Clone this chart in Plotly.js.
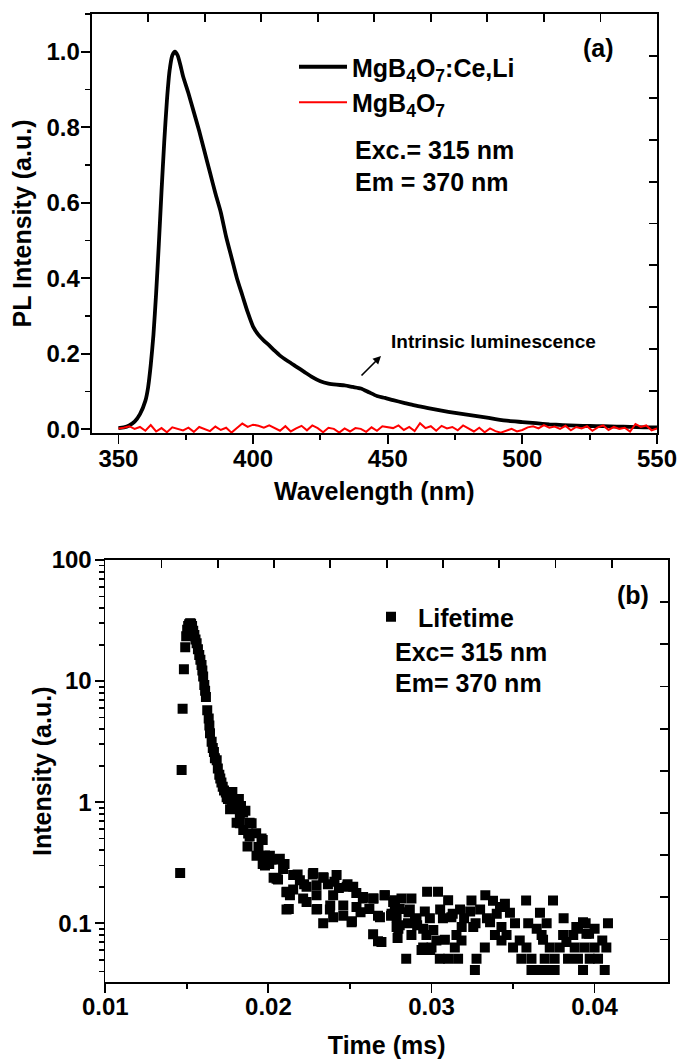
<!DOCTYPE html>
<html>
<head>
<meta charset="utf-8">
<script src="https://cdn.plot.ly/plotly-3.0.1.min.js"></script>
<style>html,body{margin:0;padding:0;background:#fff;}#chart{width:681px;height:1059px;}</style>
</head>
<body>
<div id="chart"></div>
<script>
// ---------- Panel (a): PL spectra ----------
const wlCeLi = [350,352,354,356,358,360,361,362,363,364,365,366,367,368,369,370,371,372,373,374,376,378,380,382,384,386,388,390,392,394,396,398,400,402,404,406,408,410,413,416,419,422,425,428,431,434,437,440,443,446,449,452,456,460,465,470,475,480,485,490,495,500,505,510,515,520,525,530,535,540,545,550];
const plCeLi = [0.003,0.005,0.010,0.020,0.040,0.075,0.11,0.17,0.25,0.36,0.49,0.63,0.76,0.87,0.95,0.99,1.0,0.99,0.965,0.935,0.89,0.84,0.79,0.735,0.68,0.625,0.575,0.51,0.455,0.40,0.355,0.31,0.272,0.25,0.235,0.222,0.208,0.195,0.180,0.166,0.152,0.138,0.127,0.121,0.118,0.116,0.112,0.108,0.098,0.088,0.083,0.077,0.070,0.063,0.056,0.049,0.043,0.038,0.033,0.027,0.022,0.019,0.016,0.013,0.011,0.0095,0.0085,0.008,0.007,0.006,0.005,0.005];

const wlHost = [350,352,354,356,358,360,362,364,366,368,370,372,374,376,378,380,382,384,386,388,390,392,394,396,398,400,402,404,406,408,410,412,414,416,418,420,422,424,426,428,430,432,434,436,438,440,442,444,446,448,450,452,454,456,458,460,462,464,466,468,470,472,474,476,478,480,482,484,486,488,490,492,494,496,498,500,502,504,506,508,510,512,514,516,518,520,522,524,526,528,530,532,534,536,538,540,542,544,546,548,550];
const plHost = [0.002,0.004,0.008,0.001,0.006,-0.004,0.011,-0.006,0.003,-0.008,
                0.005,0.002,-0.003,0.004,-0.007,0.006,0.001,-0.005,0.007,-0.002,
                0.004,-0.009,0.003,0.015,0.006,0.012,0.009,0.004,0.010,0.002,
                -0.004,0.008,-0.006,0.002,0.009,-0.003,0.010,0.003,-0.008,0.004,
                0.001,-0.009,0.002,-0.006,0.003,0.001,-0.007,0.005,-0.004,0.008,
                0.005,0.003,0.010,-0.002,0.006,-0.005,0.016,0.003,0.008,-0.004,
                0.009,0.002,0.006,-0.003,0.010,0.001,-0.006,0.004,-0.008,0.002,
                -0.005,-0.009,-0.003,0.001,-0.006,-0.002,0.005,0.008,0.002,0.011,
                0.004,0.007,0.001,0.009,-0.003,0.006,0.002,0.008,-0.004,0.005,
                0.010,-0.002,0.006,0.001,0.004,-0.006,0.014,0.006,0.010,-0.003,
                0.002];

const xTicksA = [350,400,450,500,550];
const yTicksA = [0.0,0.2,0.4,0.6,0.8,1.0];

// ---------- Panel (b): decay (lifetime) ----------
const timeMs = [0.01459,0.01468,0.01474,0.01482,0.01490,0.01496,0.01502,0.01508,0.01514,0.01520,0.01526,0.01532,0.01539,0.01546,0.01553,0.01560,0.01568,0.01576,0.01583,0.01590,0.01595,0.01600,0.01607,0.01612,0.01617,0.01625,0.01634,0.01638,0.01642,0.01652,0.01659,0.01666,0.01672,0.01683,0.01690,0.01699,0.01705,0.01712,0.01720,0.01728,0.01739,0.01744,0.01752,0.01764,0.01765,0.01775,0.01779,0.01784,0.01792,0.01805,0.01819,0.01825,0.01825,0.01832,0.01845,0.01846,0.01859,0.01872,0.01876,0.01885,0.01885,0.01897,0.01925,0.01927,0.01939,0.01958,0.01965,0.01965,0.01979,0.01979,0.02005,0.02009,0.02019,0.02032,0.02050,0.02059,0.02059,0.02070,0.02090,0.02099,0.02111,0.02111,0.02112,0.02125,0.02132,0.02152,0.02152,0.02179,0.02193,0.02213,0.02219,0.02234,0.02234,0.02272,0.02275,0.02295,0.02295,0.02295,0.02299,0.02336,0.02336,0.02339,0.02365,0.02377,0.02379,0.02397,0.02397,0.02405,0.02418,0.02432,0.02459,0.02459,0.02480,0.02485,0.02510,0.02512,0.02520,0.02539,0.02540,0.02565,0.02579,0.02581,0.02619,0.02642,0.02642,0.02645,0.02672,0.02672,0.02684,0.02693,0.02712,0.02714,0.02752,0.02755,0.02765,0.02775,0.02775,0.02786,0.02786,0.02792,0.02797,0.02805,0.02805,0.02816,0.02845,0.02856,0.02859,0.02867,0.02877,0.02877,0.02899,0.02908,0.02912,0.02939,0.02949,0.02949,0.02959,0.02969,0.02973,0.02990,0.02992,0.03000,0.03011,0.03030,0.03040,0.03051,0.03053,0.03070,0.03082,0.03102,0.03102,0.03122,0.03130,0.03143,0.03153,0.03163,0.03175,0.03184,0.03185,0.03200,0.03237,0.03245,0.03256,0.03266,0.03270,0.03276,0.03298,0.03327,0.03330,0.03340,0.03359,0.03377,0.03389,0.03400,0.03420,0.03429,0.03429,0.03450,0.03460,0.03481,0.03500,0.03512,0.03541,0.03551,0.03580,0.03582,0.03593,0.03613,0.03613,0.03645,0.03653,0.03665,0.03675,0.03684,0.03694,0.03706,0.03714,0.03725,0.03745,0.03755,0.03755,0.03786,0.03807,0.03810,0.03827,0.03837,0.03869,0.03878,0.03888,0.03898,0.03898,0.03929,0.03929,0.03939,0.03945,0.03950,0.03966,0.03970,0.04000,0.04000,0.04021,0.04047,0.04062,0.04072,0.04082];
const decayInt = [0.26,1.84,5.9,12.5,19.0,23.5,26.5,28.5,29.5,30.0,29.8,28.5,26.0,24.0,22.0,20.5,18.3,16.4,15.0,13.6,12.2,10.9,9.3,8.3,7.4,5.75,4.9,4.3,3.7,3.15,2.8,2.6,2.3,2.22,1.90,1.68,1.57,1.45,1.34,1.25,1.20,1.10,1.06,1.18,0.875,0.91,1.21,0.89,1.00,0.675,1.06,0.80,0.67,0.93,0.82,0.59,0.85,0.43,0.55,0.675,0.52,0.67,0.553,0.36,0.427,0.50,0.486,0.308,0.30,0.363,0.308,0.36,0.336,0.237,0.233,0.336,0.23,0.34,0.28,0.308,0.18,0.13,0.182,0.131,0.17,0.25,0.19,0.253,0.226,0.16,0.21,0.20,0.15,0.253,0.26,0.206,0.17,0.13,0.131,0.24,0.10,0.237,0.21,0.13,0.14,0.17,0.112,0.22,0.25,0.195,0.14,0.115,0.20,0.21,0.102,0.104,0.20,0.178,0.136,0.123,0.16,0.165,0.131,0.16,0.081,0.16,0.115,0.071,0.112,0.07,0.17,0.17,0.115,0.12,0.15,0.155,0.14,0.093,0.112,0.0755,0.09,0.131,0.096,0.16,0.051,0.10,0.123,0.13,0.16,0.08,0.11,0.105,0.096,0.06,0.09,0.063,0.125,0.08,0.182,0.11,0.06,0.063,0.088,0.072,0.182,0.051,0.13,0.11,0.073,0.155,0.051,0.112,0.12,0.063,0.08,0.051,0.13,0.072,0.093,0.11,0.125,0.154,0.093,0.041,0.10,0.051,0.13,0.063,0.17,0.11,0.102,0.153,0.08,0.12,0.136,0.093,0.072,0.145,0.08,0.122,0.063,0.10,0.072,0.051,0.154,0.063,0.10,0.051,0.041,0.09,0.041,0.122,0.08,0.073,0.051,0.10,0.041,0.063,0.154,0.051,0.041,0.063,0.08,0.11,0.07,0.051,0.08,0.063,0.093,0.09,0.051,0.102,0.041,0.063,0.10,0.082,0.082,0.051,0.09,0.063,0.051,0.072,0.041,0.063,0.10];

const yTickValsB = [0.1,1,10,100];
const yTickTextB = ['0.1','1','10','100'];
const yMinorB = [0.04,0.05,0.06,0.07,0.08,0.09,0.2,0.3,0.4,0.5,0.6,0.7,0.8,0.9,2,3,4,5,6,7,8,9,20,30,40,50,60,70,80,90];

// ---------- styling ----------
const FONT = '"Liberation Sans", Arial, Helvetica, sans-serif';
const tickFont = {family: FONT, size: 24, color: 'black', weight: 700};
const titleFont = {family: FONT, size: 25, color: 'black', weight: 700};
const LW = 1.8;

function baseAxis(extra) {
  return Object.assign({
    showline: true, linecolor: 'black', linewidth: LW,
    ticks: 'outside', tickcolor: 'black', tickwidth: LW, ticklen: 9,
    showgrid: false, zeroline: false, tickfont: tickFont, fixedrange: true
  }, extra);
}
function mirrorAxis(extra) {
  return Object.assign({
    showline: true, linecolor: 'black', linewidth: LW,
    ticks: 'inside', tickcolor: 'black', tickwidth: LW, ticklen: 8,
    range: [0, 1], tickvals: [0.1,0.2,0.3,0.4,0.5,0.6,0.7,0.8,0.9],
    showticklabels: false, showgrid: false, zeroline: false, fixedrange: true
  }, extra);
}

const px = v => v / 681;
const py = v => 1 - v / 1059;

const domA_x = [px(91.5), px(657)];
const domA_y = [py(433), py(14)];
const domB_x = [px(105.3), px(668)];
const domB_y = [py(981.7), py(560)];

const traces = [
  {x: wlCeLi, y: plCeLi, type: 'scatter', mode: 'lines', name: 'MgB<sub>4</sub>O<sub>7</sub>:Ce,Li',
   line: {color: 'black', width: 3.8, shape: 'spline', smoothing: 0.6}, xaxis: 'x', yaxis: 'y', legend: 'legend', legendgroup: 'a1'},
  {x: wlHost, y: plHost, type: 'scatter', mode: 'lines', name: 'MgB<sub>4</sub>O<sub>7</sub>',
   line: {color: '#ff0000', width: 2}, xaxis: 'x', yaxis: 'y', legend: 'legend', legendgroup: 'a2'},
  {x: timeMs, y: decayInt, type: 'scatter', mode: 'markers', name: 'Lifetime',
   marker: {symbol: 'square', size: 10, color: 'black'}, xaxis: 'x2', yaxis: 'y2', legend: 'legend2'},
  {x: [null], y: [null], type: 'scatter', mode: 'markers', xaxis: 'x3', yaxis: 'y3', showlegend: false, hoverinfo: 'skip'},
  {x: [null], y: [null], type: 'scatter', mode: 'markers', xaxis: 'x4', yaxis: 'y4', showlegend: false, hoverinfo: 'skip'}
];

const layout = {
  width: 681, height: 1059,
  margin: {l: 0, r: 0, t: 0, b: 0},
  paper_bgcolor: 'white', plot_bgcolor: 'white',
  font: {family: FONT, color: 'black', size: 24, weight: 700},
  showlegend: true,
  xaxis: baseAxis({domain: domA_x, anchor: 'y', range: [340, 550], tickvals: xTicksA, ticklabelstandoff: -6,
    minor: {dtick: 25, tick0: 350, ticks: 'outside', ticklen: 5, tickwidth: LW, tickcolor: 'black'},
    title: {text: 'Wavelength (nm)', font: titleFont, standoff: 12}}),
  yaxis: baseAxis({domain: domA_y, anchor: 'x', range: [-0.01, 1.1], tickvals: yTicksA, tickformat: '.1f', ticklabelstandoff: -4,
    minor: {dtick: 0.1, tick0: 0, ticks: 'outside', ticklen: 5, tickwidth: LW, tickcolor: 'black'},
    title: {text: 'PL Intensity (a.u.)', font: titleFont, standoff: 8}}),
  xaxis3: mirrorAxis({overlaying: 'x', anchor: 'y', side: 'top'}),
  yaxis3: mirrorAxis({overlaying: 'y', anchor: 'x', side: 'right'}),
  xaxis2: baseAxis({domain: domB_x, anchor: 'y2', range: [0.01, 0.0445], dtick: 0.01, tick0: 0.01, tickformat: '.2f', ticklabelstandoff: -6,
    minor: {dtick: 0.005, tick0: 0.01, ticks: 'outside', ticklen: 5, tickwidth: LW, tickcolor: 'black'},
    title: {text: 'Time (ms)', font: titleFont, standoff: 26}}),
  yaxis2: baseAxis({domain: domB_y, anchor: 'x2', type: 'log', range: [-1.483, 2], ticklabelstandoff: -2,
    tickvals: yTickValsB, ticktext: yTickTextB,
    minor: {tickvals: yMinorB, ticks: 'outside', ticklen: 5, tickwidth: LW, tickcolor: 'black'}}),
  xaxis4: mirrorAxis({overlaying: 'x2', anchor: 'y2', side: 'top'}),
  yaxis4: mirrorAxis({overlaying: 'y2', anchor: 'x2', side: 'right'}),
  legend: {x: px(294), y: py(44), xanchor: 'left', yanchor: 'top', bgcolor: 'rgba(0,0,0,0)',
    font: {family: FONT, size: 25, color: 'black', weight: 700}, itemwidth: 48, tracegroupgap: 4, traceorder: 'normal'},
  legend2: {x: px(364), y: py(594), xanchor: 'left', yanchor: 'top', bgcolor: 'rgba(0,0,0,0)',
    font: {family: FONT, size: 25, color: 'black', weight: 700}, itemwidth: 44},
  annotations: [
    {text: '(a)', xref: 'paper', yref: 'paper', x: px(598), y: py(48), xanchor: 'center', yanchor: 'middle', showarrow: false, font: titleFont},
    {text: 'Exc.= 315 nm', xref: 'paper', yref: 'paper', x: px(353), y: py(150), xanchor: 'left', yanchor: 'middle', showarrow: false, font: titleFont},
    {text: 'Em = 370 nm', xref: 'paper', yref: 'paper', x: px(353), y: py(182), xanchor: 'left', yanchor: 'middle', showarrow: false, font: titleFont},
    {text: 'Intrinsic luminescence', xref: 'paper', yref: 'paper', x: px(389), y: py(342), xanchor: 'left', yanchor: 'middle', showarrow: false,
     font: {family: FONT, size: 19, color: 'black', weight: 700}},
    {text: '', xref: 'paper', yref: 'paper', x: px(381), y: py(356), ax: -21, ay: 21, showarrow: true,
     arrowhead: 2, arrowsize: 1, arrowwidth: 1.6, arrowcolor: 'black'},
    {text: '(b)', xref: 'paper', yref: 'paper', x: px(633), y: py(595), xanchor: 'center', yanchor: 'middle', showarrow: false, font: titleFont},
    {text: 'Exc= 315 nm', xref: 'paper', yref: 'paper', x: px(393), y: py(652), xanchor: 'left', yanchor: 'middle', showarrow: false, font: titleFont},
    {text: 'Em= 370 nm', xref: 'paper', yref: 'paper', x: px(393), y: py(683), xanchor: 'left', yanchor: 'middle', showarrow: false, font: titleFont},
    {text: 'Intensity (a.u.)', xref: 'paper', yref: 'paper', x: px(42), y: py(772), xanchor: 'center', yanchor: 'middle', textangle: -90, showarrow: false, font: titleFont}
  ]
};

Plotly.newPlot('chart', traces, layout, {staticPlot: true, displayModeBar: false});
</script>
</body>
</html>
